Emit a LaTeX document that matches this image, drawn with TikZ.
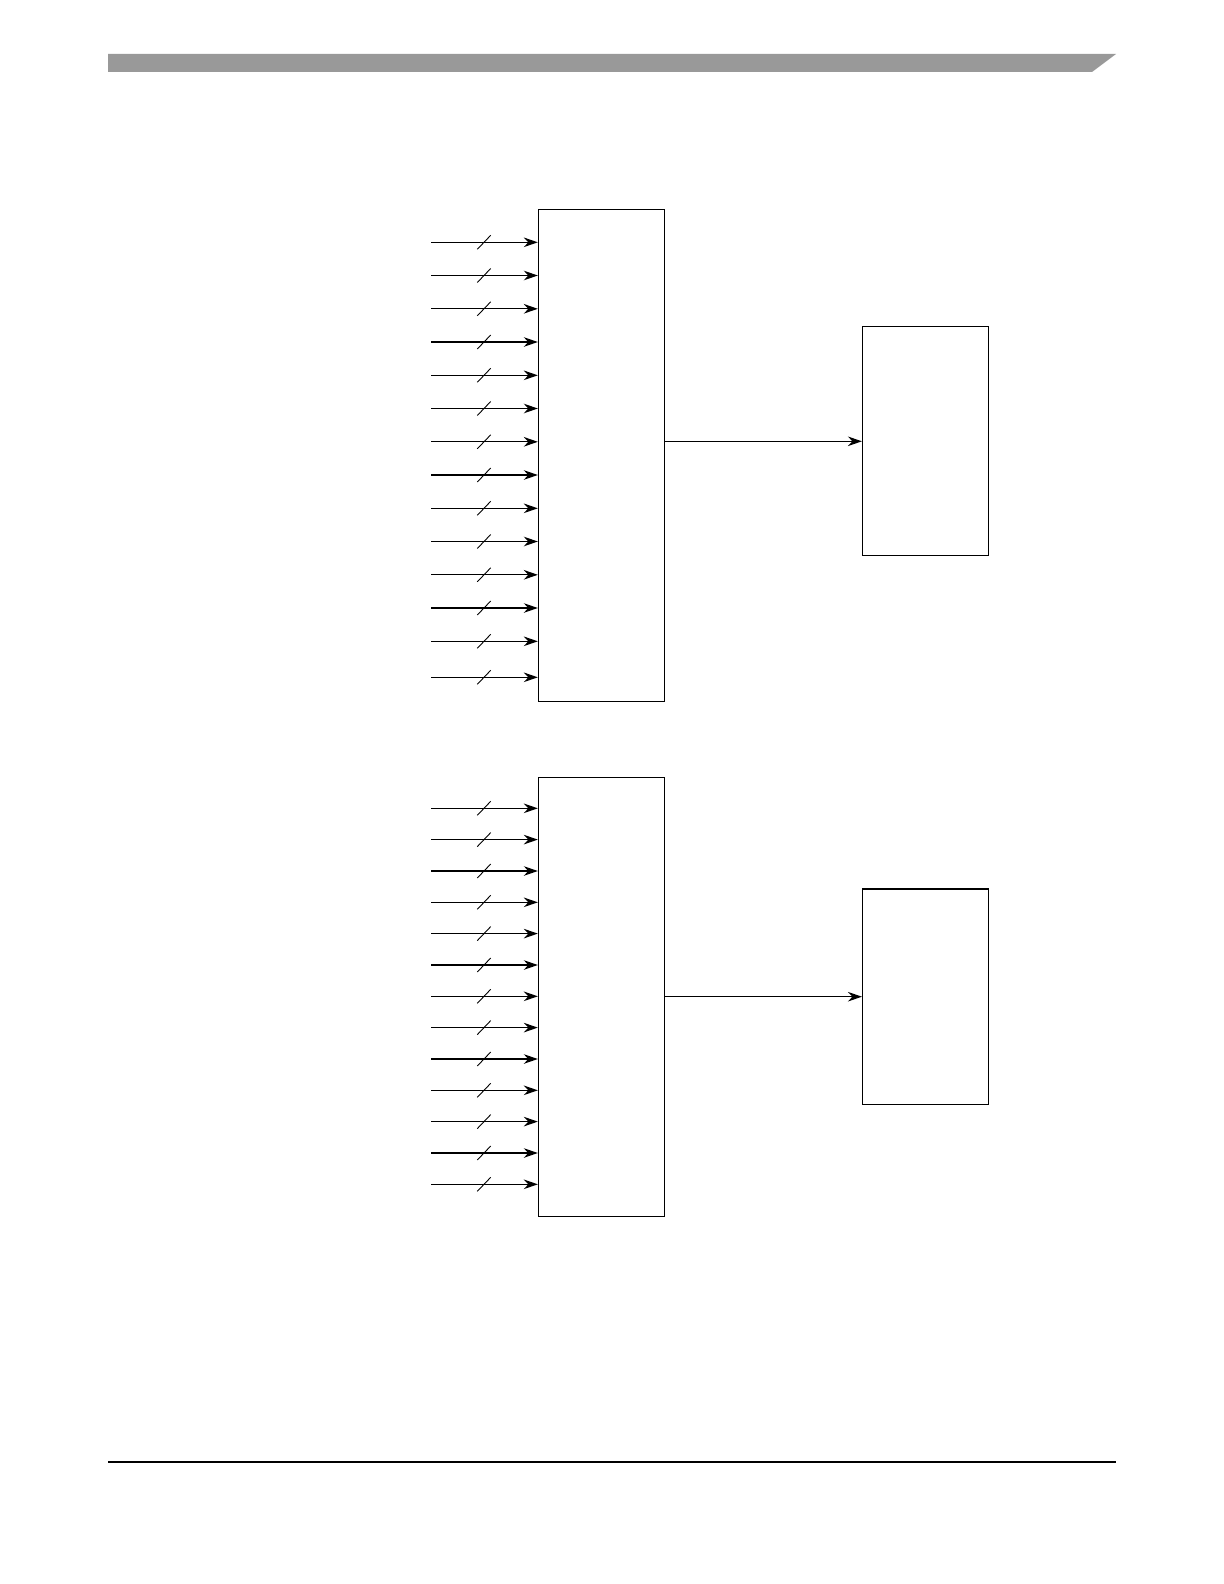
\documentclass[tikz,border=0pt]{standalone}
\usepackage{tikz}
\usetikzlibrary{arrows.meta}

\tikzset{
  blockbox/.style={draw, line width=0.6pt, inner sep=0pt, minimum width=63pt},
  bus/.style={line width=0.6pt, -{Stealth[length=7pt, width=4.8pt]}},
  buswidth/.style={line width=0.45pt}
}

\begin{document}
\begin{tikzpicture}[x=0.5pt, y=-0.5pt]
    \useasboundingbox (0,0) rectangle (1224,1584);
    % Page header and footer
    \fill[black!40] (108,54) -- (1116,54) -- (1092,72) -- (108,72) -- cycle;
    \draw[line width=0.7pt] (108,1462) -- (1116,1462);
    % Upper blocks
    \node[blockbox, minimum height=245.9pt] (mux1) at (601.4,455.2) {};
    \node[blockbox, minimum height=114.5pt] (reg1) at (925.5,441.3) {};
    % Upper inputs
    \foreach \y [count=\n] in {242.3,275.5,308.8,342,375.3,408.5,441.8,475,508.3,541.5,574.8,608,641.3,677.3} {
        \coordinate (inA\n) at (431,\y);
        \draw[bus] (inA\n) -- (mux1.west |- inA\n);
        \draw[buswidth, shift={(inA\n)}] (46.3,7) -- (59.7,-7);
    }
    \draw[bus] (mux1.east |- reg1.west) -- (reg1.west);
    % Lower blocks
    \node[blockbox, minimum height=219.5pt] (mux2) at (601.4,996.8) {};
    \node[blockbox, minimum height=107.8pt] (reg2) at (925.5,996.7) {};
    % Lower inputs
    \foreach \y [count=\n] in {808.3,839.6,871,902.3,933.6,965,996.3,1027.6,1059,1090.3,1121.6,1153,1184.3} {
        \coordinate (inB\n) at (431,\y);
        \draw[bus] (inB\n) -- (mux2.west |- inB\n);
        \draw[buswidth, shift={(inB\n)}] (46.3,7) -- (59.7,-7);
    }
    \draw[bus] (mux2.east |- reg2.west) -- (reg2.west);
\end{tikzpicture}
\end{document}
